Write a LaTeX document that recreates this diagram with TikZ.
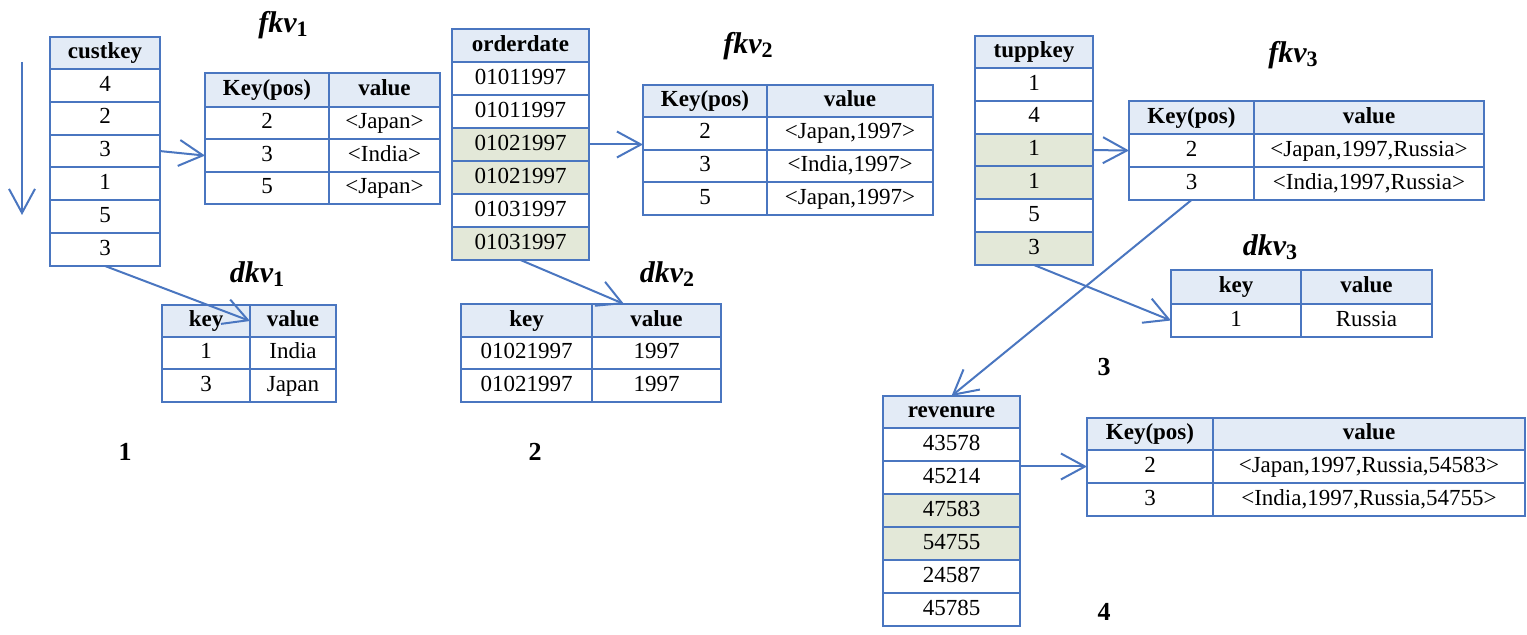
\documentclass[tikz,border=0pt]{standalone}
\usepackage{fontspec}
\setmainfont{Liberation Serif}
\usetikzlibrary{arrows.meta}
\definecolor{bl}{HTML}{4A76C0}
\definecolor{hd}{HTML}{E3EBF6}
\definecolor{sh}{HTML}{E3E8D8}
\newcommand\tcell[7]{\node[tc, fill=#6, minimum width={((#4)-(#2))*0.5pt}, minimum height={((#5)-(#3))*0.5pt}] (#1) at ({((#2)+(#4))/2},{((#3)+(#5))/2}) {#7};}
\newcommand\kvlabel[2]{{\fontsize{15}{17}\selectfont\bfseries\itshape #1}\raisebox{-0.45ex}{\fontsize{11}{12}\selectfont\bfseries #2}}
\begin{document}
\begin{tikzpicture}[x=0.5pt,y=-0.5pt,
  tc/.style={draw=bl, line width=1pt, inner sep=0pt, outer sep=0pt, text height=8pt, text depth=2.4pt, font=\fontsize{11.5}{13}\selectfont, text=black},
  arr/.style={draw=bl, line width=1pt, -{Straight Barb[length=12pt,width=13pt]}},
  lbl/.style={inner sep=0pt, text=black},
  num/.style={inner sep=0pt, text=black, font=\fontsize{13}{15}\selectfont\bfseries}]
\useasboundingbox (0,0) rectangle (1527,635);

% ---------- table 1: custkey ----------
\tcell{c0}{50}{37}{160}{69}{hd}{\bfseries custkey}
\foreach \v/\f [count=\i] in {4/white,2/white,3/white,1/white,5/white,3/white}
  {\tcell{c\i}{50}{(69+(\i-1)*32.83)}{160}{(69+\i*32.83)}{\f}{\v}}

\node[lbl] (lf1) at (283,25) {\kvlabel{fkv}{1}};
\tcell{f1h1}{205}{73}{329}{107}{hd}{\bfseries Key(pos)}
\tcell{f1h2}{329}{73}{440}{107}{hd}{\bfseries value}
\foreach \k/\v [count=\i] in {2/{<Japan>},3/{<India>},5/{<Japan>}}{
  \tcell{f1a\i}{205}{(107+(\i-1)*32.4)}{329}{(107+\i*32.4)}{white}{\k}
  \tcell{f1b\i}{329}{(107+(\i-1)*32.4)}{440}{(107+\i*32.4)}{white}{\v}}

\node[lbl] (ld1) at (257,274) {\kvlabel{dkv}{1}};
\tcell{d1h1}{162}{305}{250}{337}{hd}{\bfseries key}
\tcell{d1h2}{250}{305}{336}{337}{hd}{\bfseries value}
\foreach \k/\v [count=\i] in {1/India,3/Japan}{
  \tcell{d1a\i}{162}{(337+(\i-1)*32.5)}{250}{(337+\i*32.5)}{white}{\k}
  \tcell{d1b\i}{250}{(337+(\i-1)*32.5)}{336}{(337+\i*32.5)}{white}{\v}}

\node[num] (n1) at (125,452) {1};

% ---------- table 2: orderdate ----------
\tcell{o0}{452}{29}{589}{62}{hd}{\bfseries orderdate}
\foreach \v/\f [count=\i] in {01011997/white,01011997/white,01021997/sh,01021997/sh,01031997/white,01031997/sh}
  {\tcell{o\i}{452}{(62+(\i-1)*33)}{589}{(62+\i*33)}{\f}{\v}}

\node[lbl] (lf2) at (748,46) {\kvlabel{fkv}{2}};
\tcell{f2h1}{643}{85}{767}{117}{hd}{\bfseries Key(pos)}
\tcell{f2h2}{767}{85}{933}{117}{hd}{\bfseries value}
\foreach \k/\v [count=\i] in {2/{<Japan,1997>},3/{<India,1997>},5/{<Japan,1997>}}{
  \tcell{f2a\i}{643}{(117+(\i-1)*32.7)}{767}{(117+\i*32.7)}{white}{\k}
  \tcell{f2b\i}{767}{(117+(\i-1)*32.7)}{933}{(117+\i*32.7)}{white}{\v}}

\node[lbl] (ld2) at (667,274) {\kvlabel{dkv}{2}};
\tcell{d2h1}{461}{304}{592}{337}{hd}{\bfseries key}
\tcell{d2h2}{592}{304}{721}{337}{hd}{\bfseries value}
\foreach \k/\v [count=\i] in {01021997/1997,01021997/1997}{
  \tcell{d2a\i}{461}{(337+(\i-1)*32.5)}{592}{(337+\i*32.5)}{white}{\k}
  \tcell{d2b\i}{592}{(337+(\i-1)*32.5)}{721}{(337+\i*32.5)}{white}{\v}}

\node[num] (n2) at (535,452) {2};

% ---------- table 3: tuppkey ----------
\tcell{t0}{975}{36}{1093}{68}{hd}{\bfseries tuppkey}
\foreach \v/\f [count=\i] in {1/white,4/white,1/sh,1/sh,5/white,3/sh}
  {\tcell{t\i}{975}{(68+(\i-1)*32.83)}{1093}{(68+\i*32.83)}{\f}{\v}}

\node[lbl] (lf3) at (1293,55) {\kvlabel{fkv}{3}};
\tcell{f3h1}{1129}{101}{1254}{134}{hd}{\bfseries Key(pos)}
\tcell{f3h2}{1254}{101}{1484}{134}{hd}{\bfseries value}
\foreach \k/\v [count=\i] in {2/{<Japan,1997,Russia>},3/{<India,1997,Russia>}}{
  \tcell{f3a\i}{1129}{(134+(\i-1)*33)}{1254}{(134+\i*33)}{white}{\k}
  \tcell{f3b\i}{1254}{(134+(\i-1)*33)}{1484}{(134+\i*33)}{white}{\v}}

\node[lbl] (ld3) at (1270,247) {\kvlabel{dkv}{3}};
\tcell{d3h1}{1171}{270}{1301}{304}{hd}{\bfseries key}
\tcell{d3h2}{1301}{270}{1432}{304}{hd}{\bfseries value}
\tcell{d3a1}{1171}{304}{1301}{337}{white}{1}
\tcell{d3b1}{1301}{304}{1432}{337}{white}{Russia}

\node[num] (n3) at (1104,367) {3};

% ---------- table 4: revenure ----------
\tcell{r0}{883}{396}{1020}{428}{hd}{\bfseries revenure}
\foreach \v/\f [count=\i] in {43578/white,45214/white,47583/sh,54755/sh,24587/white,45785/white}
  {\tcell{r\i}{883}{(428+(\i-1)*33)}{1020}{(428+\i*33)}{\f}{\v}}

\tcell{f4h1}{1087}{418}{1213}{450}{hd}{\bfseries Key(pos)}
\tcell{f4h2}{1213}{418}{1525}{450}{hd}{\bfseries value}
\foreach \k/\v [count=\i] in {2/{<Japan,1997,Russia,54583>},3/{<India,1997,Russia,54755>}}{
  \tcell{f4a\i}{1087}{(450+(\i-1)*33)}{1213}{(450+\i*33)}{white}{\k}
  \tcell{f4b\i}{1213}{(450+(\i-1)*33)}{1525}{(450+\i*33)}{white}{\v}}

\node[num] (n4) at (1104,612) {4};

% ---------- connectors ----------
\coordinate (la) at (22,62);
\coordinate (lb) at (22,215);
\draw[arr] (la) -- (lb);
\draw[arr] (c3.east) -- (f1a2.west);
\draw[arr] (c6.south) -- (d1h1.east);
\draw[arr] (o3.east) -- (o3.east -| f2a1.west);
\draw[arr] (o6.south) -- ([xshift=16pt]d2h2.north west);
\draw[arr] (t3.east) -- (f3a1.west);
\draw[arr] (t6.south) -- (d3a1.west);
\draw[arr] (f3a2.south) -- (r0.north);
\draw[arr] (f4a1.west -| r2.east) -- (f4a1.west);
\end{tikzpicture}
\end{document}
